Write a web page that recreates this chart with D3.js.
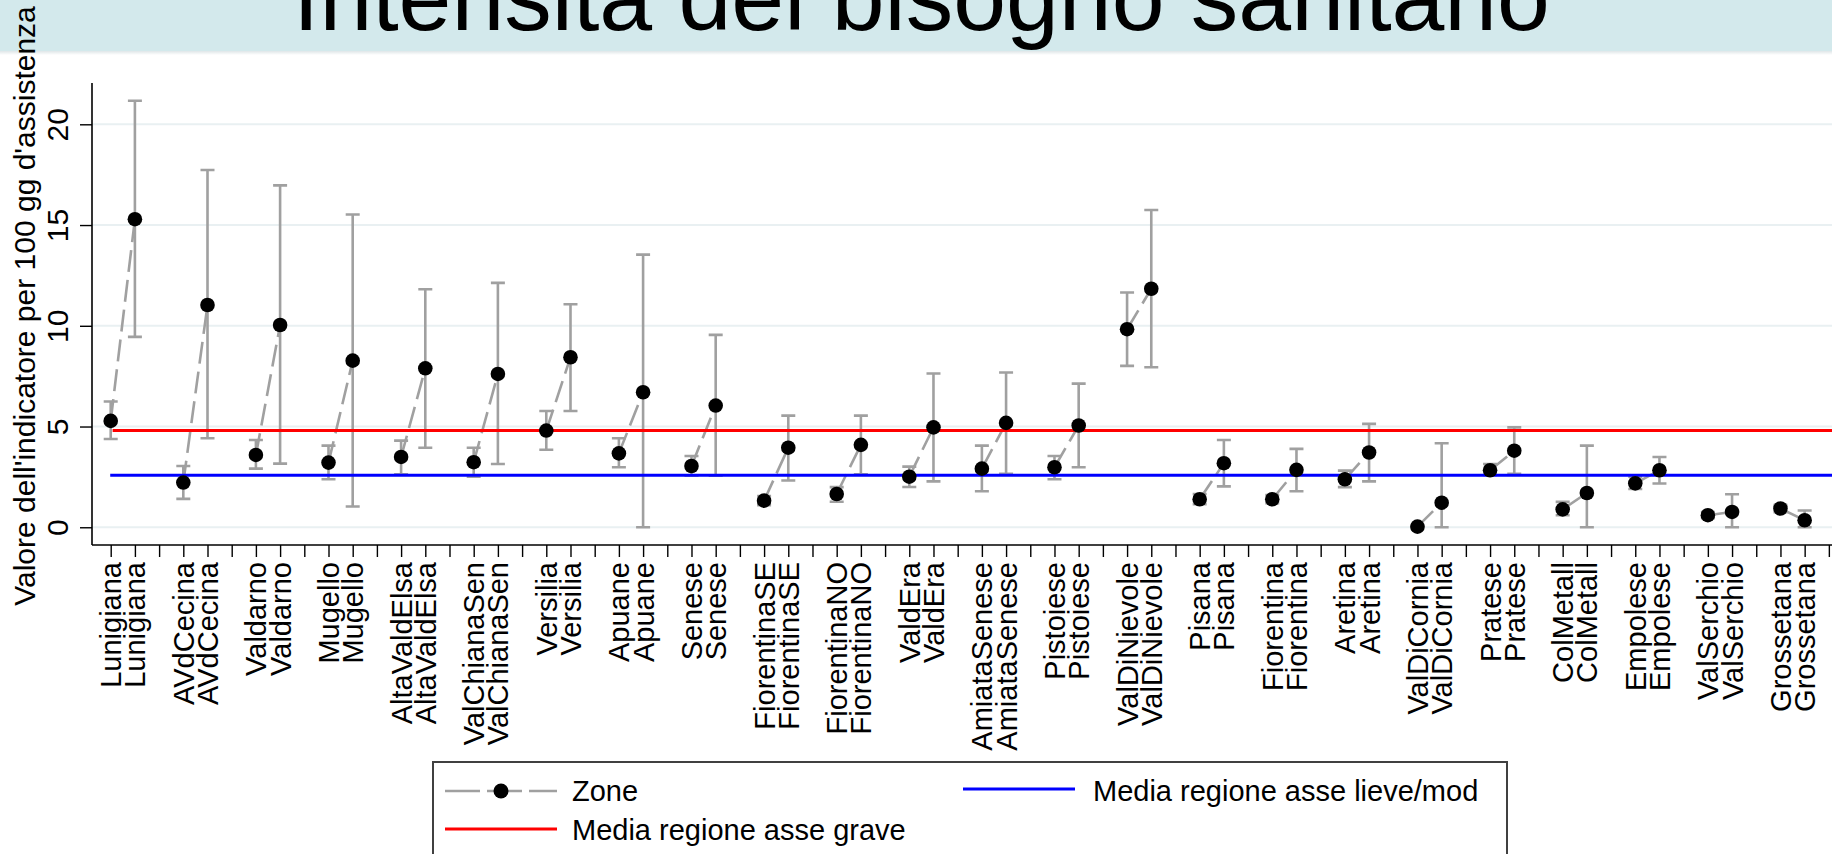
<!DOCTYPE html>
<html>
<head>
<meta charset="utf-8">
<script src="https://cdn.jsdelivr.net/npm/d3@7"></script>
<style>
  html, body { margin: 0; padding: 0; background: #ffffff; }
  svg { display: block; }
  text { font-family: Arial, "Liberation Sans", Helvetica, sans-serif; fill: #000; }
</style>
</head>
<body>
<svg id="chart" width="1832" height="854"></svg>
<script>
// ---------------- data ----------------
const titleText = "Intensità del bisogno sanitario";
const yTitle = "Valore dell'indicatore per 100 gg d'assistenza";
const zones = ["Lunigiana", "AVdCecina", "Valdarno", "Mugello", "AltaValdElsa", "ValChianaSen",
  "Versilia", "Apuane", "Senese", "FiorentinaSE", "FiorentinaNO", "ValdEra", "AmiataSenese",
  "Pistoiese", "ValDiNievole", "Pisana", "Fiorentina", "Aretina", "ValDiCornia", "Pratese",
  "ColMetall", "Empolese", "ValSerchio", "Grossetana"];
// first point of each zone (asse lieve/mod)
const val1 = [5.28, 2.22, 3.59, 3.21, 3.49, 3.23, 4.80, 3.67, 3.04, 1.32, 1.65, 2.51, 2.91, 2.98, 9.83, 1.39, 1.39, 2.38, 0.03, 2.83, 0.89, 2.18, 0.60, 0.93];
const lo1  = [4.38, 1.41, 2.91, 2.38, 2.63, 2.51, 3.85, 2.98, 2.56, 1.10, 1.27, 2.00, 1.79, 2.38, 8.01, 1.15, 1.20, 1.99, 0.00, 2.60, 0.60, 1.90, 0.45, 0.75];
const hi1  = [6.24, 3.04, 4.33, 4.05, 4.30, 3.95, 5.77, 4.42, 3.54, 1.55, 1.99, 3.01, 4.05, 3.54, 11.65, 1.65, 1.60, 2.81, 0.05, 3.14, 1.26, 2.51, 0.75, 1.10];
// second point of each zone (asse grave)
const val2 = [15.29, 11.03, 10.04, 8.27, 7.89, 7.61, 8.44, 6.70, 6.04, 3.95, 4.09, 4.96, 5.18, 5.05, 11.84, 3.18, 2.85, 3.71, 1.22, 3.80, 1.70, 2.83, 0.76, 0.35];
const lo2  = [9.45, 4.42, 3.16, 1.03, 3.95, 3.14, 5.77, 0.00, 2.56, 2.32, 2.63, 2.28, 2.65, 2.98, 7.94, 2.03, 1.79, 2.28, 0.00, 2.65, 0.00, 2.17, 0.00, 0.00];
const hi2  = [21.17, 17.73, 16.97, 15.52, 11.81, 12.13, 11.07, 13.53, 9.55, 5.54, 5.54, 7.63, 7.68, 7.13, 15.75, 4.33, 3.89, 5.13, 4.17, 4.96, 4.05, 3.49, 1.64, 0.83];
const meanGrave = 4.80;
const meanLieve = 2.58;
const yTicks = [0, 5, 10, 15, 20];
const legendLabels = ["Zone", "Media regione asse lieve/mod", "Media regione asse grave"];

// ---------------- build table ----------------
const pts = [];
zones.forEach((z, g) => {
  pts.push({zone: z, g: g, pos: 3 * g + 1, v: val1[g], lo: lo1[g], hi: hi1[g]});
  pts.push({zone: z, g: g, pos: 3 * g + 2, v: val2[g], lo: lo2[g], hi: hi2[g]});
});
const nSlots = zones.length * 3;
const tickPos = d3.range(1, nSlots + 1);
const labelOf = new Map(pts.map(p => [p.pos, p.zone]));

// ---------------- layout ----------------
const svg = d3.select("#chart");
const W = 1832, H = 854;
const plot = {left: 92, right: 1832, top: 83, bottom: 545};

const x = d3.scaleLinear().domain([0.227, 72.13]).range([plot.left, plot.right]);
const y = d3.scaleLinear().domain([-0.88, 22.05]).range([plot.bottom, plot.top]);

const grey = "#a0a0a0";

// title band
const defs = svg.append("defs");
const grad = defs.append("linearGradient").attr("id", "shadow").attr("x1", 0).attr("x2", 0).attr("y1", 0).attr("y2", 1);
grad.append("stop").attr("offset", "0%").attr("stop-color", "#dfe6e8");
grad.append("stop").attr("offset", "100%").attr("stop-color", "#ffffff");
svg.append("rect").attr("x", 0).attr("y", 0).attr("width", W).attr("height", 51).attr("fill", "#d3e9ec");
svg.append("rect").attr("x", 0).attr("y", 51).attr("width", W).attr("height", 4).attr("fill", "url(#shadow)");
svg.append("text").attr("x", 293).attr("y", 30).attr("font-size", 95).text(titleText);

// grid lines
svg.append("g").selectAll("line").data(yTicks).join("line")
  .attr("x1", plot.left).attr("x2", plot.right)
  .attr("y1", d => y(d)).attr("y2", d => y(d))
  .attr("stroke", "#e9f0f2").attr("stroke-width", 2);

// y axis
const yAxis = d3.axisLeft(y).tickValues(yTicks).tickSize(12).tickFormat(d3.format("d"));
const gy = svg.append("g").attr("transform", `translate(${plot.left},0)`).call(yAxis);
gy.select(".domain").attr("stroke", "#000").attr("stroke-width", 1.6)
  .attr("d", `M0,${plot.top}V${plot.bottom}`);
gy.selectAll(".tick line").attr("stroke", "#000").attr("stroke-width", 1.4);
gy.selectAll(".tick text").attr("font-size", 30).attr("fill", "#000")
  .attr("text-anchor", "middle").attr("x", null).attr("dy", null)
  .attr("transform", "translate(-24,0) rotate(-90)");

// x axis
const xAxis = d3.axisBottom(x).tickValues(tickPos).tickSize(12).tickFormat(d => labelOf.get(d) || "");
const gx = svg.append("g").attr("transform", `translate(0,${plot.bottom})`).call(xAxis);
gx.select(".domain").attr("stroke", "#000").attr("stroke-width", 1.6)
  .attr("d", `M${plot.left},0H${plot.right}`);
gx.selectAll(".tick line").attr("stroke", "#000").attr("stroke-width", 1.4);
gx.selectAll(".tick text").attr("font-size", 29).attr("fill", "#000")
  .attr("text-anchor", "end").attr("y", null).attr("dy", null)
  .attr("transform", "translate(10,17) rotate(-90)");

// y title
svg.append("text").attr("font-size", 30).attr("text-anchor", "middle")
  .attr("transform", "translate(35,306) rotate(-90)").text(yTitle);

// error bars (rcap)
const cap = 7;
const eb = svg.append("g").attr("stroke", grey).attr("stroke-width", 2.6).attr("fill", "none");
eb.selectAll("path").data(pts).join("path")
  .attr("d", p => {
    const cx = x(p.pos), yl = y(p.lo), yh = y(p.hi);
    return `M${cx - cap},${yh}H${cx + cap}M${cx},${yh}V${yl}M${cx - cap},${yl}H${cx + cap}`;
  });

// connecting dashed lines between the two points of each zone
const line = d3.line().x(p => x(p.pos)).y(p => y(p.v));
svg.append("g").selectAll("path").data(zones.map((z, g) => pts.filter(p => p.g === g))).join("path")
  .attr("d", line).attr("fill", "none").attr("stroke", grey)
  .attr("stroke-width", 2.6).attr("stroke-dasharray", "22,8");

// regional mean lines
svg.append("line").attr("x1", x(1.08)).attr("x2", x(72.13))
  .attr("y1", y(meanGrave)).attr("y2", y(meanGrave))
  .attr("stroke", "#ff0000").attr("stroke-width", 3);
svg.append("line").attr("x1", x(0.98)).attr("x2", x(72.13))
  .attr("y1", y(meanLieve)).attr("y2", y(meanLieve))
  .attr("stroke", "#0000ff").attr("stroke-width", 3);

// points
svg.append("g").selectAll("circle").data(pts).join("circle")
  .attr("cx", p => x(p.pos)).attr("cy", p => y(p.v)).attr("r", 7.3).attr("fill", "#000");

// legend
const lg = svg.append("g");
lg.append("rect").attr("x", 433).attr("y", 762).attr("width", 1074).attr("height", 130)
  .attr("fill", "#fff").attr("stroke", "#404040").attr("stroke-width", 2);
// Zone
lg.append("line").attr("x1", 445).attr("x2", 557).attr("y1", 791).attr("y2", 791)
  .attr("stroke", grey).attr("stroke-width", 2.6).attr("stroke-dasharray", "35,7");
lg.append("circle").attr("cx", 501).attr("cy", 791).attr("r", 7.5).attr("fill", "#000");
lg.append("text").attr("x", 572).attr("y", 801).attr("font-size", 29).text(legendLabels[0]);
// blue
lg.append("line").attr("x1", 963).attr("x2", 1075).attr("y1", 789).attr("y2", 789)
  .attr("stroke", "#0000ff").attr("stroke-width", 3);
lg.append("text").attr("x", 1093).attr("y", 801).attr("font-size", 29).text(legendLabels[1]);
// red
lg.append("line").attr("x1", 445).attr("x2", 557).attr("y1", 829).attr("y2", 829)
  .attr("stroke", "#ff0000").attr("stroke-width", 3);
lg.append("text").attr("x", 572).attr("y", 840).attr("font-size", 29).text(legendLabels[2]);
</script>
</body>
</html>
